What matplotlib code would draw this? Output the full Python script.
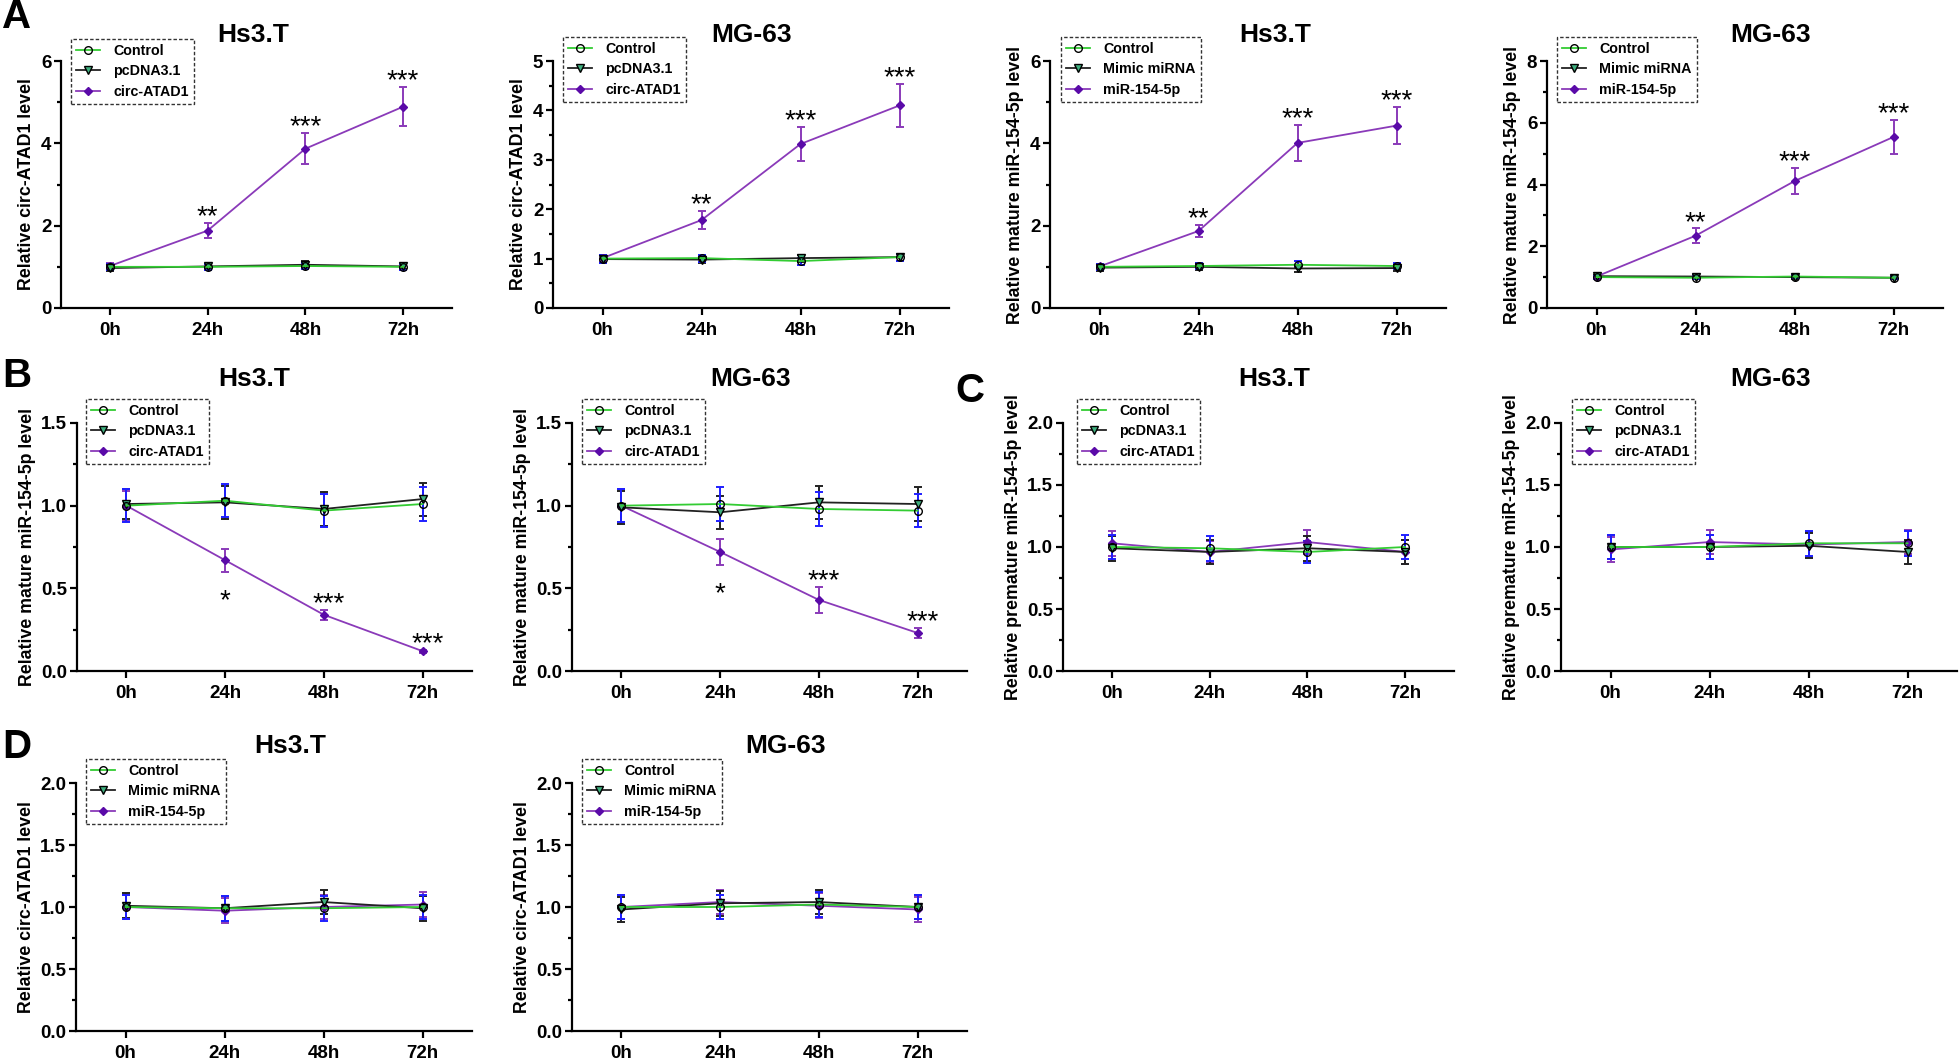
import numpy as np
import matplotlib
matplotlib.use('Agg')
import matplotlib.pyplot as plt
from matplotlib.ticker import MultipleLocator, FormatStrFormatter

plt.rcParams['font.family'] = ['Liberation Sans', 'DejaVu Sans']
plt.rcParams['font.weight'] = 'bold'
plt.rcParams['axes.labelweight'] = 'bold'

W, H = 1960, 1058

times = ['0h', '24h', '48h', '72h']
groups_oe = ['Control', 'pcDNA3.1', 'circ-ATAD1']
groups_mim = ['Control', 'Mimic miRNA', 'miR-154-5p']

# A: circ-ATAD1 / miR-154-5p overexpression
a1_ctrl = [1.00, 1.00, 1.02, 1.00]
a1_vec = [0.97, 1.01, 1.05, 1.01]
a1_circ = [1.02, 1.88, 3.87, 4.89]
a1_ctrl_sd = [0.08, 0.07, 0.08, 0.07]
a1_vec_sd = [0.08, 0.07, 0.08, 0.07]
a1_circ_sd = [0.07, 0.19, 0.38, 0.48]

a2_ctrl = [1.00, 1.01, 0.95, 1.03]
a2_vec = [0.99, 0.98, 1.01, 1.03]
a2_circ = [1.01, 1.78, 3.32, 4.10]
a2_ctrl_sd = [0.08, 0.07, 0.07, 0.07]
a2_vec_sd = [0.08, 0.07, 0.07, 0.07]
a2_circ_sd = [0.07, 0.18, 0.34, 0.43]

a3_ctrl = [1.00, 1.02, 1.05, 1.02]
a3_mim = [0.98, 1.00, 0.96, 0.97]
a3_mir = [1.01, 1.87, 4.01, 4.43]
a3_ctrl_sd = [0.07, 0.07, 0.08, 0.07]
a3_mim_sd = [0.07, 0.07, 0.08, 0.07]
a3_mir_sd = [0.06, 0.14, 0.43, 0.45]

a4_ctrl = [1.00, 0.98, 1.02, 0.98]
a4_mim = [1.03, 1.02, 1.00, 0.98]
a4_mir = [1.02, 2.34, 4.11, 5.54]
a4_ctrl_sd = [0.05, 0.05, 0.05, 0.05]
a4_mim_sd = [0.05, 0.05, 0.05, 0.05]
a4_mir_sd = [0.05, 0.24, 0.43, 0.56]

# B: mature miR-154-5p after circ-ATAD1
b1_ctrl = [1.00, 1.03, 0.97, 1.01]
b1_vec = [1.01, 1.02, 0.98, 1.04]
b1_circ = [1.00, 0.67, 0.34, 0.12]
b1_ctrl_sd = [0.10, 0.10, 0.10, 0.10]
b1_vec_sd = [0.09, 0.10, 0.10, 0.10]
b1_circ_sd = [0.09, 0.07, 0.03, 0.01]

b2_ctrl = [1.00, 1.01, 0.98, 0.97]
b2_vec = [0.99, 0.96, 1.02, 1.01]
b2_circ = [1.00, 0.72, 0.43, 0.23]
b2_ctrl_sd = [0.10, 0.10, 0.10, 0.10]
b2_vec_sd = [0.10, 0.10, 0.10, 0.10]
b2_circ_sd = [0.10, 0.08, 0.08, 0.03]

# C: premature miR-154-5p
c1_ctrl = [1.00, 0.99, 0.96, 1.00]
c1_vec = [0.99, 0.96, 0.99, 0.96]
c1_circ = [1.03, 0.96, 1.04, 0.96]
c1_ctrl_sd = [0.10, 0.10, 0.09, 0.10]
c1_vec_sd = [0.10, 0.10, 0.10, 0.10]
c1_circ_sd = [0.10, 0.09, 0.10, 0.10]

c2_ctrl = [1.00, 1.00, 1.03, 1.03]
c2_vec = [1.00, 1.00, 1.01, 0.96]
c2_circ = [0.98, 1.04, 1.02, 1.04]
c2_ctrl_sd = [0.10, 0.10, 0.10, 0.10]
c2_vec_sd = [0.10, 0.10, 0.10, 0.10]
c2_circ_sd = [0.10, 0.10, 0.10, 0.10]

# D: circ-ATAD1 after miR-154-5p
d1_ctrl = [1.00, 0.99, 0.99, 1.00]
d1_mim = [1.01, 0.99, 1.04, 0.99]
d1_mir = [1.00, 0.97, 1.00, 1.02]
d1_ctrl_sd = [0.10, 0.10, 0.10, 0.10]
d1_mim_sd = [0.10, 0.10, 0.10, 0.10]
d1_mir_sd = [0.10, 0.10, 0.10, 0.10]

d2_ctrl = [1.00, 1.00, 1.02, 1.00]
d2_mim = [0.98, 1.03, 1.04, 1.00]
d2_mir = [1.00, 1.04, 1.01, 0.98]
d2_ctrl_sd = [0.10, 0.10, 0.10, 0.10]
d2_mim_sd = [0.10, 0.10, 0.10, 0.10]
d2_mir_sd = [0.10, 0.10, 0.10, 0.10]

stars_up = ['', '**', '***', '***']
stars_down = ['', '*', '***', '***']
stars_none = ['', '', '', '']

lab_circ = 'Relative circ-ATAD1 level'
lab_mat = 'Relative mature miR-154-5p level'
lab_pre = 'Relative premature miR-154-5p level'

# title, ylabel, groups, means, sds, ymax, major step, stars, star side of 24h
panels = [
    ('Hs3.T', lab_circ, groups_oe, [a1_ctrl, a1_vec, a1_circ], [a1_ctrl_sd, a1_vec_sd, a1_circ_sd], 6, 2, stars_up, 'above'),
    ('MG-63', lab_circ, groups_oe, [a2_ctrl, a2_vec, a2_circ], [a2_ctrl_sd, a2_vec_sd, a2_circ_sd], 5, 1, stars_up, 'above'),
    ('Hs3.T', lab_mat, groups_mim, [a3_ctrl, a3_mim, a3_mir], [a3_ctrl_sd, a3_mim_sd, a3_mir_sd], 6, 2, stars_up, 'above'),
    ('MG-63', lab_mat, groups_mim, [a4_ctrl, a4_mim, a4_mir], [a4_ctrl_sd, a4_mim_sd, a4_mir_sd], 8, 2, stars_up, 'above'),
    ('Hs3.T', lab_mat, groups_oe, [b1_ctrl, b1_vec, b1_circ], [b1_ctrl_sd, b1_vec_sd, b1_circ_sd], 1.5, 0.5, stars_down, 'below'),
    ('MG-63', lab_mat, groups_oe, [b2_ctrl, b2_vec, b2_circ], [b2_ctrl_sd, b2_vec_sd, b2_circ_sd], 1.5, 0.5, stars_down, 'below'),
    ('Hs3.T', lab_pre, groups_oe, [c1_ctrl, c1_vec, c1_circ], [c1_ctrl_sd, c1_vec_sd, c1_circ_sd], 2.0, 0.5, stars_none, 'above'),
    ('MG-63', lab_pre, groups_oe, [c2_ctrl, c2_vec, c2_circ], [c2_ctrl_sd, c2_vec_sd, c2_circ_sd], 2.0, 0.5, stars_none, 'above'),
    ('Hs3.T', lab_circ, groups_mim, [d1_ctrl, d1_mim, d1_mir], [d1_ctrl_sd, d1_mim_sd, d1_mir_sd], 2.0, 0.5, stars_none, 'above'),
    ('MG-63', lab_circ, groups_mim, [d2_ctrl, d2_mim, d2_mir], [d2_ctrl_sd, d2_mim_sd, d2_mir_sd], 2.0, 0.5, stars_none, 'above'),
]

# pixel layout: axes (left, right, top, bottom), title centre, legend top-left
layout = [
    ((61, 452, 61, 308), (253, 35), (71, 39)),
    ((553, 949, 61, 308), (752, 35), (563, 37)),
    ((1050, 1446, 61, 308), (1275, 35), (1061, 37)),
    ((1547, 1943, 61, 308), (1771, 35), (1557, 37)),
    ((77, 472, 423, 671), (254, 379), (86, 399)),
    ((572, 967, 423, 671), (751, 379), (582, 399)),
    ((1063, 1454, 423, 671), (1274, 379), (1077, 399)),
    ((1561, 1957, 423, 671), (1771, 379), (1572, 399)),
    ((76, 472, 783, 1031), (290, 746), (86, 759)),
    ((572, 967, 783, 1031), (786, 746), (582, 759)),
]
letters = [('A', 17, 17), ('B', 17, 376), ('C', 970, 391), ('D', 17, 747)]

line_col = ['#33cc33', '#222222', '#8a3ab9']
err_col = ['#1f1fff', '#222222', '#8a3ab9']
markers = ['o', 'v', 'D']
m_face = ['none', '#3fae7e', '#5a0aa8']
m_size = [5.5, 6, 3.8]

fig = plt.figure(figsize=(W / 100, H / 100), dpi=100)

for (title, ylab, groups, means, sds, ymax, step, stars, side), (rect, tpos, lpos) in zip(panels, layout):
    l, r, t, b = rect
    ax = fig.add_axes([l / W, 1 - b / H, (r - l) / W, (b - t) / H])
    x = np.arange(len(times))
    handles = []
    for k in [2, 1, 0]:
        ax.errorbar(x, means[k], yerr=sds[k], fmt='none', ecolor=err_col[k],
                    elinewidth=1.4, capsize=3, capthick=1.4, zorder=2)
    for k in [2, 1, 0]:
        h, = ax.plot(x, means[k], color=line_col[k], lw=1.3, marker=markers[k],
                     ms=m_size[k], mfc=m_face[k], mec='#5a0aa8' if k == 2 else 'black',
                     mew=1.0, label=groups[k], zorder=3 + (2 - k))
        handles.append(h)
    handles = handles[::-1]
    # significance stars
    top_series = np.array(means[2])
    top_sd = np.array(sds[2])
    for i, s in enumerate(stars):
        if not s:
            continue
        if side == 'below' and i == 1:
            ax.annotate(s, (x[i], top_series[i] - top_sd[i]), xytext=(0, -26),
                        textcoords='offset points', ha='center', va='baseline', fontsize=20, fontweight='normal')
        else:
            ax.annotate(s, (x[i] + (0.05 if len(s) == 3 and side == 'below' else 0), top_series[i] + top_sd[i]),
                        xytext=(0, -1), textcoords='offset points', ha='center', va='baseline',
                        fontsize=20, fontweight='normal')
    ax.set_xlim(-0.5, 3.5)
    ax.set_ylim(0, ymax)
    ax.set_xticks(x)
    ax.set_xticklabels(times)
    ax.yaxis.set_major_locator(MultipleLocator(step))
    ax.yaxis.set_minor_locator(MultipleLocator(step / 2))
    ax.yaxis.set_major_formatter(FormatStrFormatter('%d' if step >= 1 else '%.1f'))
    for sp in ['top', 'right']:
        ax.spines[sp].set_visible(False)
    for sp in ['left', 'bottom']:
        ax.spines[sp].set_linewidth(1.6)
    ax.tick_params(axis='both', which='major', length=5, width=1.6, labelsize=13.5, pad=2)
    ax.tick_params(axis='y', which='minor', length=3, width=1.6)
    ax.tick_params(axis='x', which='major', pad=5)
    ax.set_ylabel(ylab, fontsize=12.8, labelpad=4)
    fig.text(tpos[0] / W, 1 - tpos[1] / H, title, ha='center', va='center', fontsize=19, fontweight='bold')
    leg = ax.legend(handles=handles, loc='upper left', bbox_to_anchor=(lpos[0] / W, 1 - lpos[1] / H),
                    bbox_transform=fig.transFigure, borderaxespad=0, fancybox=False,
                    handlelength=1.7, handletextpad=0.9, labelspacing=0.45, borderpad=0.35,
                    prop={'weight': 'bold', 'size': 10.3})
    fr = leg.get_frame()
    fr.set_edgecolor('black')
    fr.set_linewidth(1.0)
    fr.set_linestyle((0, (2.5, 1.5)))

for s, px, py in letters:
    fig.text(px / W, 1 - py / H, s, ha='center', va='center', fontsize=29, fontweight='bold')

fig.savefig('out.png', dpi=100)
